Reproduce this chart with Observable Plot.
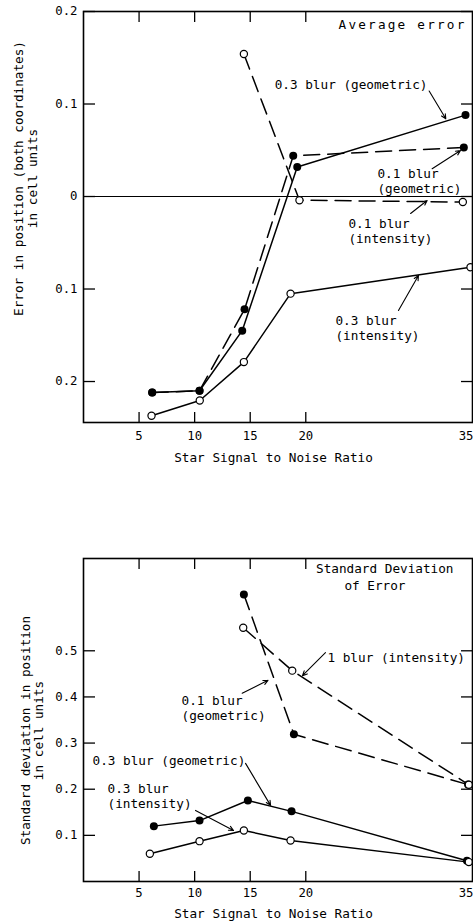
<!DOCTYPE html>
<html>
<head>
<meta charset="utf-8">
<script src="https://cdn.jsdelivr.net/npm/d3@7"></script>
<script src="https://cdn.jsdelivr.net/npm/@observablehq/plot@0.6"></script>
<style>
  html, body { margin: 0; padding: 0; background: white; }
  #chart { width: 473px; height: 922px; overflow: hidden; }
  #chart svg { display: block; }
</style>
</head>
<body>
<div id="chart"></div>
<script>
// ---------- DATA ----------
// Tick values / labels
const xTickLabels = [5, 10, 15, 20];
const xEdgeLabel = [35];
const xTickMarks = [5, 10, 15, 20];
const avgYTicks = [-0.2, -0.1, 0, 0.1, 0.2];
const sdYTicks = [0.1, 0.2, 0.3, 0.4, 0.5];

// Top panel: Average error (negative values shown below zero line)
const snrAvgGeo03 = [6.18, 10.44, 14.28, 19.23, 34.37];
const errAvgGeo03 = [-0.212, -0.210, -0.145, 0.032, 0.088];
const snrAvgGeo01 = [6.18, 10.44, 14.49, 18.87, 34.22];
const errAvgGeo01 = [-0.212, -0.210, -0.122, 0.044, 0.053];
const snrAvgInt01 = [14.43, 19.43, 34.13];
const errAvgInt01 = [0.154, -0.004, -0.006];
const snrAvgInt03 = [6.12, 10.46, 14.43, 18.63, 34.82];
const errAvgInt03 = [-0.237, -0.2205, -0.179, -0.105, -0.0764];

// Bottom panel: Standard deviation of error
const snrSdGeo01 = [14.43, 18.93, 34.6];
const sdGeo01 = [0.622, 0.319, 0.21];
const snrSdInt01 = [14.37, 18.78, 34.67];
const sdInt01 = [0.550, 0.457, 0.2096];
const snrSdGeo03 = [6.33, 10.44, 14.79, 18.72, 34.5];
const sdGeo03 = [0.120, 0.132, 0.1755, 0.152, 0.045];
const snrSdInt03 = [5.97, 10.44, 14.43, 18.63, 34.67];
const sdInt03 = [0.060, 0.0874, 0.1105, 0.0889, 0.042];

// Annotation labels (text, anchor in data units) and leader arrows
const avgNotes = [
  {text: "0.3 blur (geometric)", x: 17.2, y: 0.122},
  {text: "0.1 blur\n(geometric)", x: 26.45, y: 0.0173},
  {text: "0.1 blur\n(intensity)", x: 23.84, y: -0.0368},
  {text: "0.3 blur\n(intensity)", x: 22.67, y: -0.1416}
];
const avgLeaders = [
  {x1: 31.1, y1: 0.114, x2: 32.6, y2: 0.084},
  {x1: 31.37, y1: 0.030, x2: 33.92, y2: 0.0497},
  {x1: 29.43, y1: -0.0184, x2: 30.92, y2: -0.0043},
  {x1: 28.34, y1: -0.1232, x2: 30.14, y2: -0.0854}
];
const sdNotes = [
  {text: "1 blur (intensity)", x: 21.95, y: 0.4855},
  {text: "0.1 blur\n(geometric)", x: 8.82, y: 0.377},
  {text: "0.3 blur (geometric)", x: 0.81, y: 0.262},
  {text: "0.3 blur\n(intensity)", x: 2.16, y: 0.186}
];
const sdLeaders = [
  {x1: 21.77, y1: 0.496, x2: 19.7, y2: 0.446},
  {x1: 14.28, y1: 0.408, x2: 16.6, y2: 0.436},
  {x1: 14.58, y1: 0.256, x2: 16.83, y2: 0.165},
  {x1: 10.08, y1: 0.154, x2: 13.5, y2: 0.1105}
];

// ---------- BUILD ----------
const zip = (xs, ys) => xs.map((x, i) => ({x, y: ys[i]}));
const FONT = "'DejaVu Sans Mono', 'Liberation Mono', monospace";
const FS = 12.7, TFS = 12.3;
const DASH = "16,8";

function axes(yTicks, yFmt, xPad) {
  return [
    Plot.axisX(xTickLabels, {anchor: "bottom", tickSize: 0, tickPadding: xPad, fontSize: TFS, label: null}),
    Plot.axisX(xEdgeLabel, {anchor: "bottom", tickSize: 0, tickPadding: xPad, fontSize: TFS, label: null, textAnchor: "end", dx: 1}),
    Plot.axisX(xTickMarks, {anchor: "bottom", tickSize: -10, tickFormat: () => "", label: null, strokeWidth: 1.3}),
    Plot.axisX(xTickMarks, {anchor: "top", tickSize: -10, tickFormat: () => "", label: null, strokeWidth: 1.3}),
    Plot.axisY(yTicks, {anchor: "left", tickSize: 0, tickPadding: 6, tickFormat: yFmt, fontSize: TFS, label: null}),
    Plot.axisY(yTicks, {anchor: "left", tickSize: -12, tickFormat: () => "", label: null, strokeWidth: 1.3}),
    Plot.axisY(yTicks, {anchor: "right", tickSize: -12, tickFormat: () => "", label: null, strokeWidth: 1.3})
  ];
}

function seriesMarks(solidFilled, dashedFilled, dashedOpen, solidOpen) {
  return [
    Plot.line(solidFilled, {x: "x", y: "y", stroke: "black", strokeWidth: 1.5}),
    Plot.line(dashedFilled, {x: "x", y: "y", stroke: "black", strokeWidth: 1.5, strokeDasharray: DASH}),
    Plot.line(dashedOpen, {x: "x", y: "y", stroke: "black", strokeWidth: 1.5, strokeDasharray: DASH}),
    Plot.line(solidOpen, {x: "x", y: "y", stroke: "black", strokeWidth: 1.5}),
    Plot.dot(solidFilled, {x: "x", y: "y", r: 4, fill: "black"}),
    Plot.dot(dashedFilled, {x: "x", y: "y", r: 4, fill: "black"}),
    Plot.dot(dashedOpen, {x: "x", y: "y", r: 3.6, fill: "white", stroke: "black", strokeWidth: 1.2}),
    Plot.dot(solidOpen, {x: "x", y: "y", r: 3.6, fill: "white", stroke: "black", strokeWidth: 1.2})
  ];
}

function noteMarks(notes, leaders) {
  return [
    Plot.arrow(leaders, {x1: "x1", y1: "y1", x2: "x2", y2: "y2", stroke: "black", strokeWidth: 1.1, headLength: 7, headAngle: 50}),
    Plot.text(notes, {x: "x", y: "y", text: "text", textAnchor: "start", lineAnchor: "middle", lineHeight: 1.2, fontSize: FS, fill: "black"})
  ];
}

const avgFmt = d => d === 0 ? "0" : Math.abs(d).toFixed(1);

const topPlot = Plot.plot({
  width: 473, height: 470,
  marginLeft: 83, marginRight: 1, marginTop: 11, marginBottom: 48,
  x: {domain: [0, 35]},
  y: {domain: [-0.2443, 0.2]},
  style: {fontFamily: FONT, fontSize: FS + "px", background: "white", color: "black", overflow: "visible"},
  marks: [
    Plot.ruleY([0], {stroke: "black", strokeWidth: 1}),
    ...axes(avgYTicks, avgFmt, 9),
    ...seriesMarks(zip(snrAvgGeo03, errAvgGeo03), zip(snrAvgGeo01, errAvgGeo01), zip(snrAvgInt01, errAvgInt01), zip(snrAvgInt03, errAvgInt03)),
    ...noteMarks(avgNotes, avgLeaders),
    Plot.text(["Average error"], {frameAnchor: "top-right", textAnchor: "end", lineAnchor: "middle", dx: -6, dy: 13, fontSize: FS}),
    Plot.text(["Error in position (both coordinates)\nin cell units"], {frameAnchor: "left", rotate: -90, textAnchor: "middle", lineAnchor: "middle", lineHeight: 1.1, dx: -58, dy: -38.5, fontSize: FS}),
    Plot.text(["Star Signal to Noise Ratio"], {frameAnchor: "bottom", textAnchor: "middle", lineAnchor: "middle", dx: -4.5, dy: 35, fontSize: FS}),
    Plot.frame({stroke: "black", strokeWidth: 1.6})
  ]
});

const botPlot = Plot.plot({
  width: 473, height: 452,
  marginLeft: 83, marginRight: 1, marginTop: 88, marginBottom: 41,
  x: {domain: [0, 35]},
  y: {domain: [0, 0.7]},
  style: {fontFamily: FONT, fontSize: FS + "px", background: "white", color: "black", overflow: "visible"},
  marks: [
    ...axes(sdYTicks, d => d.toFixed(1), 7),
    ...seriesMarks(zip(snrSdGeo03, sdGeo03), zip(snrSdGeo01, sdGeo01), zip(snrSdInt01, sdInt01), zip(snrSdInt03, sdInt03)),
    ...noteMarks(sdNotes, sdLeaders),
    Plot.text(["Standard Deviation"], {frameAnchor: "top-right", textAnchor: "end", lineAnchor: "middle", dx: -19, dy: 10, fontSize: FS}),
    Plot.text(["of Error"], {frameAnchor: "top-right", textAnchor: "end", lineAnchor: "middle", dx: -67, dy: 27, fontSize: FS}),
    Plot.text(["Standard deviation in position\nin cell units"], {frameAnchor: "left", rotate: -90, textAnchor: "middle", lineAnchor: "middle", lineHeight: 1.05, dx: -51.5, dy: 10.5, fontSize: FS}),
    Plot.text(["Star Signal to Noise Ratio"], {frameAnchor: "bottom", textAnchor: "middle", lineAnchor: "middle", dx: -4.5, dy: 32, fontSize: FS}),
    Plot.frame({stroke: "black", strokeWidth: 1.6})
  ]
});

// widen the typewriter spacing of the "Average error" heading
d3.select(topPlot).selectAll("text")
  .filter(function() { return this.textContent === "Average error"; })
  .attr("letter-spacing", "2.2");

const chart = document.getElementById("chart");
chart.appendChild(topPlot);
chart.appendChild(botPlot);
</script>
</body>
</html>
